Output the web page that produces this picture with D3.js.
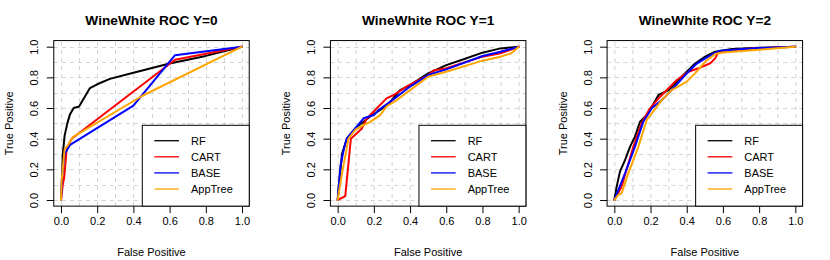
<!DOCTYPE html>
<html>
<head>
<meta charset="utf-8">
<script src="https://cdn.jsdelivr.net/npm/d3@7"></script>
<style>
  body { margin: 0; background: #fff; }
  svg { display: block; font-family: "Liberation Sans", Arial, Helvetica, sans-serif; }
  .grid line { stroke: #d3d3d3; stroke-dasharray: 4,4; stroke-width: 1; }
  .curve { fill: none; stroke-width: 2; stroke-linejoin: round; stroke-linecap: round; }
</style>
</head>
<body>
<svg id="chart" width="830" height="260"></svg>
<script>
// panels and series
var classes = ["Y=0", "Y=1", "Y=2"];
var models = ["RF", "CART", "BASE", "AppTree"];
var modelColors = { RF: "#000000", CART: "#ff0000", BASE: "#0000ff", AppTree: "#ffa500" };
var tickValues = [0, 0.2, 0.4, 0.6, 0.8, 1.0];
var gridValues = d3.range(0, 11).map(function (i) { return i / 10; });

// ROC points [false positive, true positive]
var rfY0 = [[0,0],[0.005,0.1],[0.01,0.3],[0.02,0.42],[0.035,0.5],[0.05,0.56],[0.07,0.6],[0.1,0.61],[0.12,0.65],[0.16,0.73],[0.2,0.755],[0.27,0.79],[0.4,0.83],[0.6,0.89],[0.8,0.94],[1,1]];
var cartY0 = [[0,0],[0.01,0.1],[0.018,0.15],[0.031,0.33],[0.059,0.4],[0.63,0.915],[1,1]];
var baseY0 = [[0,0],[0.005,0.15],[0.02,0.3],[0.035,0.33],[0.05,0.36],[0.4,0.615],[0.63,0.945],[1,1]];
var appY0 = [[0,0],[0.003,0.12],[0.02,0.33],[0.04,0.36],[0.065,0.41],[0.45,0.68],[1,1]];

var rfY1 = [[0,0],[0.006,0.09],[0.024,0.3],[0.05,0.4],[0.106,0.478],[0.143,0.51],[0.19,0.554],[0.235,0.587],[0.29,0.64],[0.345,0.717],[0.4,0.75],[0.5,0.826],[0.6,0.88],[0.7,0.92],[0.8,0.961],[0.9,0.989],[1,1]];
var cartY1 = [[0,0],[0.042,0.026],[0.073,0.4],[0.106,0.435],[0.134,0.467],[0.16,0.53],[0.207,0.587],[0.27,0.663],[0.31,0.685],[0.38,0.74],[0.5,0.815],[0.53,0.845],[0.6,0.859],[0.8,0.935],[0.9,0.957],[1,1]];
var baseY1 = [[0,0],[0.015,0.217],[0.033,0.326],[0.05,0.4],[0.097,0.467],[0.143,0.533],[0.2,0.554],[0.226,0.587],[0.29,0.64],[0.4,0.74],[0.5,0.815],[0.6,0.852],[0.8,0.939],[0.9,0.967],[1,1]];
var appY1 = [[0,0],[0.024,0.174],[0.06,0.4],[0.097,0.457],[0.143,0.489],[0.18,0.51],[0.235,0.554],[0.27,0.61],[0.327,0.652],[0.4,0.717],[0.5,0.804],[0.6,0.837],[0.8,0.909],[0.9,0.935],[0.96,0.957],[1,1]];

var rfY2 = [[0,0],[0.013,0.087],[0.031,0.185],[0.059,0.26],[0.087,0.348],[0.114,0.413],[0.142,0.511],[0.17,0.543],[0.197,0.587],[0.244,0.685],[0.3,0.717],[0.336,0.76],[0.39,0.826],[0.446,0.89],[0.502,0.935],[0.557,0.967],[0.65,0.985],[0.8,0.993],[1,1]];
var cartY2 = [[0,0],[0.04,0.087],[0.105,0.348],[0.151,0.5],[0.197,0.598],[0.253,0.674],[0.345,0.783],[0.41,0.837],[0.465,0.859],[0.53,0.892],[0.557,0.924],[0.576,0.967],[0.75,0.989],[1,1]];
var baseY2 = [[0,0],[0.022,0.065],[0.059,0.174],[0.114,0.348],[0.16,0.511],[0.207,0.598],[0.262,0.652],[0.317,0.717],[0.391,0.815],[0.456,0.89],[0.502,0.924],[0.557,0.961],[0.585,0.974],[0.75,0.989],[1,1]];
var appY2 = [[0,0],[0.022,0.033],[0.04,0.043],[0.077,0.174],[0.133,0.348],[0.179,0.522],[0.207,0.565],[0.262,0.652],[0.317,0.717],[0.4,0.772],[0.446,0.826],[0.502,0.902],[0.557,0.952],[0.6,0.962],[0.8,0.98],[1,1]];

var rocData = [
  { RF: rfY0, CART: cartY0, BASE: baseY0, AppTree: appY0 },
  { RF: rfY1, CART: cartY1, BASE: baseY1, AppTree: appY1 },
  { RF: rfY2, CART: cartY2, BASE: baseY2, AppTree: appY2 }
];

var panelWidth = 830 / 3;
var svg = d3.select("#chart");

// R style: axes extend 4% beyond the data range
var x = d3.scaleLinear().domain([-0.04, 1.04]).range([53.76, 249.24]);
var y = d3.scaleLinear().domain([-0.04, 1.04]).range([206.13, 40.57]);

var line = d3.line()
  .x(function (d) { return x(d[0]); })
  .y(function (d) { return y(d[1]); });

classes.forEach(function (cls, i) {
  var g = svg.append("g")
    .attr("transform", "translate(" + (i * panelWidth) + ",0)");

  // grid
  var grid = g.append("g").attr("class", "grid");
  grid.selectAll("line.v").data(gridValues).enter().append("line")
    .attr("class", "v")
    .attr("x1", function (d) { return Math.round(x(d)) + 0.5; })
    .attr("x2", function (d) { return Math.round(x(d)) + 0.5; })
    .attr("y1", y.range()[0]).attr("y2", y.range()[1]);
  grid.selectAll("line.h").data(gridValues).enter().append("line")
    .attr("class", "h")
    .attr("y1", function (d) { return Math.round(y(d)) + 0.5; })
    .attr("y2", function (d) { return Math.round(y(d)) + 0.5; })
    .attr("x1", x.range()[0]).attr("x2", x.range()[1]);

  // curves
  models.forEach(function (m) {
    g.append("path")
      .attr("class", "curve")
      .attr("d", line(rocData[i][m]))
      .attr("stroke", modelColors[m]);
  });

  // axes
  var xAxis = d3.axisBottom(x).tickValues(tickValues).tickFormat(d3.format(".1f")).tickSize(7).tickSizeOuter(0);
  var yAxis = d3.axisLeft(y).tickValues(tickValues).tickFormat(d3.format(".1f")).tickSize(7).tickSizeOuter(0);

  var gx = g.append("g")
    .attr("transform", "translate(0," + y.range()[0] + ")")
    .call(xAxis);
  gx.select(".domain").remove();
  gx.selectAll("text").attr("font-size", 11).attr("font-family", null).attr("fill", "#000").attr("y", 11).attr("dy", "0.71em");
  gx.selectAll("line").attr("stroke", "#000");

  var gy = g.append("g")
    .attr("transform", "translate(" + x.range()[0] + ",0)")
    .call(yAxis);
  gy.select(".domain").remove();
  gy.selectAll("line").attr("stroke", "#000");
  gy.selectAll("text")
    .attr("font-size", 11).attr("font-family", null).attr("fill", "#000")
    .attr("x", null).attr("dy", null)
    .attr("text-anchor", "middle")
    .attr("transform", "translate(-15.5,0) rotate(-90)");

  // box
  g.append("rect")
    .attr("x", x.range()[0]).attr("y", y.range()[1])
    .attr("width", x.range()[1] - x.range()[0])
    .attr("height", y.range()[0] - y.range()[1])
    .attr("fill", "none").attr("stroke", "#000").attr("stroke-width", 1);

  // title and axis labels
  var cx = (x.range()[0] + x.range()[1]) / 2;
  g.append("text")
    .attr("x", cx).attr("y", 25)
    .attr("text-anchor", "middle")
    .attr("font-size", 13.7).attr("font-weight", "bold")
    .text("WineWhite ROC " + cls);
  g.append("text")
    .attr("x", cx).attr("y", 255.5)
    .attr("text-anchor", "middle")
    .attr("font-size", 11)
    .text("False Positive");
  g.append("text")
    .attr("transform", "translate(13.3," + ((y.range()[0] + y.range()[1]) / 2) + ") rotate(-90)")
    .attr("text-anchor", "middle")
    .attr("font-size", 11)
    .text("True Positive");

  // legend, bottom right
  var lg = g.append("g").attr("transform", "translate(142.3,125.3)");
  lg.append("rect")
    .attr("width", x.range()[1] - 142.3)
    .attr("height", y.range()[0] - 125.3)
    .attr("fill", "#fff").attr("stroke", "#000").attr("stroke-width", 1);
  models.forEach(function (m, k) {
    var ry = 15.4 + k * 16.1;
    lg.append("line")
      .attr("x1", 12).attr("x2", 36.7)
      .attr("y1", ry).attr("y2", ry)
      .attr("stroke", modelColors[m]).attr("stroke-width", 1.3);
    lg.append("text")
      .attr("x", 48.7).attr("y", ry).attr("dy", "0.35em")
      .attr("font-size", 11)
      .text(m);
  });
});
</script>
</body>
</html>
